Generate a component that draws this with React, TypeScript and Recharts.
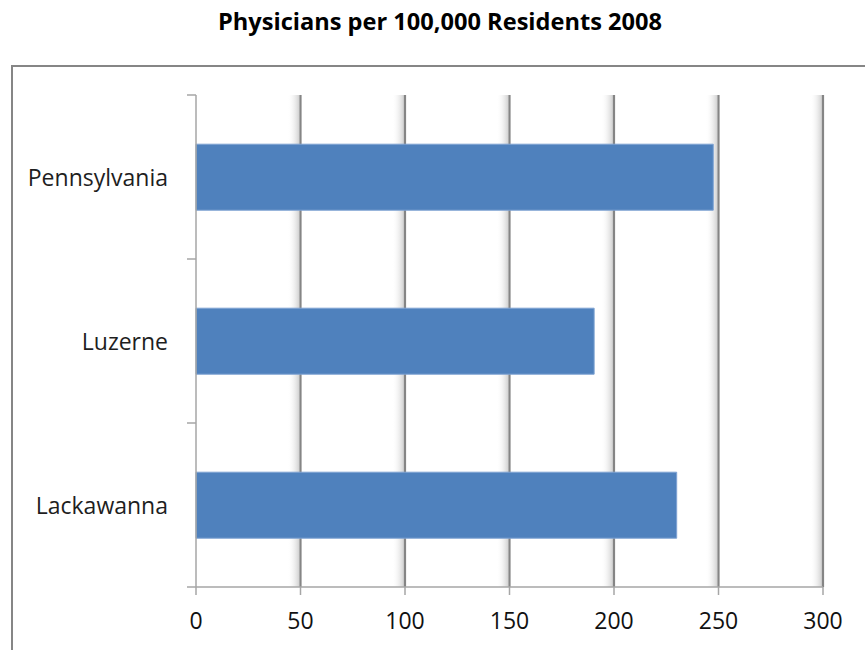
import React from 'react';
import { BarChart, Bar, XAxis, YAxis, CartesianGrid } from 'recharts';

const categories = ['Pennsylvania', 'Luzerne', 'Lackawanna'];
const values = [247.5, 190.5, 230];
const xTicks = [0, 50, 100, 150, 200, 250, 300];
const title = 'Physicians per 100,000 Residents 2008';

const data = categories.map((name, i) => ({ name, value: values[i] }));

const W = 865;
const H = 650;
const PLOT_LEFT = 196;
const PLOT_TOP = 95;
const PLOT_BOTTOM = 587;
const BAND = (PLOT_BOTTOM - PLOT_TOP) / categories.length;
const FONT = '"Open Sans", sans-serif';
const AXIS_COLOR = '#a6a6a6';

const GridLine = (props: any) => {
  const { x1, y1, y2 } = props;
  if (x1 <= PLOT_LEFT + 1) return <g />;
  return (
    <g>
      <rect x={x1 - 13} y={y1} width={12} height={y2 - y1} fill="url(#gridShadow)" />
      <line x1={x1} x2={x1} y1={y1} y2={y2} stroke="#858585" strokeWidth={2.2} />
    </g>
  );
};

const YTick = (props: any) => {
  const { y, payload, index } = props;
  return (
    <g>
      <line x1={PLOT_LEFT - 9} x2={PLOT_LEFT} y1={y - BAND / 2} y2={y - BAND / 2} stroke={AXIS_COLOR} strokeWidth={1.5} />
      {index === categories.length - 1 && (
        <line x1={PLOT_LEFT - 9} x2={PLOT_LEFT} y1={y + BAND / 2} y2={y + BAND / 2} stroke={AXIS_COLOR} strokeWidth={1.5} />
      )}
      <text x={168} y={y + 8.5} textAnchor="end" fontFamily={FONT} fontSize={23} fill="#1e1e1e">
        {payload.value}
      </text>
    </g>
  );
};

export default function App() {
  return (
    <div style={{ position: 'absolute', left: 0, top: 0, width: W, height: H, overflow: 'hidden', background: '#fff' }}>
      <div
        style={{
          position: 'absolute',
          left: 11,
          top: 65,
          width: W + 20,
          height: H + 20,
          border: '2px solid #868686',
          boxSizing: 'border-box',
        }}
      />
      <svg width={W} height={50} style={{ position: 'absolute', left: 0, top: 0 }}>
        <text x={440} y={29.5} textAnchor="middle" fontFamily={FONT} fontWeight="bold" fontSize={23.6} fill="#000">
          {title}
        </text>
      </svg>
      <div style={{ position: 'absolute', left: 0, top: 0 }}>
        <BarChart
          width={W}
          height={H}
          data={data}
          layout="vertical"
          margin={{ top: PLOT_TOP, right: W - 823, left: 0, bottom: 0 }}
          barCategoryGap="30%"
        >
          <defs>
            <linearGradient id="gridShadow" x1="0" x2="1" y1="0" y2="0">
              <stop offset="0%" stopColor="#ffffff" stopOpacity={0} />
              <stop offset="100%" stopColor="#cfcfcf" stopOpacity={1} />
            </linearGradient>
          </defs>
          <CartesianGrid horizontal={false} vertical={GridLine} />
          <XAxis
            type="number"
            domain={[0, 300]}
            ticks={xTicks}
            height={H - PLOT_BOTTOM}
            tickSize={8}
            tickMargin={18}
            interval={0}
            stroke={AXIS_COLOR}
            strokeWidth={1.5}
            tick={{ fontFamily: FONT, fontSize: 23, fill: '#111' }}
          />
          <YAxis
            type="category"
            dataKey="name"
            width={PLOT_LEFT}
            tickLine={false}
            stroke={AXIS_COLOR}
            strokeWidth={1.5}
            tick={<YTick />}
            interval={0}
          />
          <Bar dataKey="value" fill="#4f81bd" stroke="#7fa3d3" strokeWidth={1} isAnimationActive={false} />
        </BarChart>
      </div>
    </div>
  );
}
